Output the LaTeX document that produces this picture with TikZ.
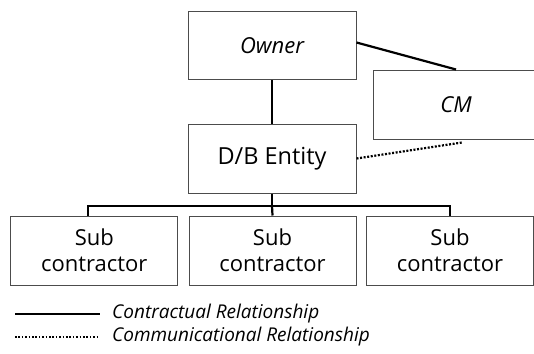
\documentclass[tikz,border=0pt]{standalone}
\usepackage{fontspec}
\setmainfont{Open Sans}
\usetikzlibrary{calc}
\begin{document}
\begin{tikzpicture}[x=1pt,y=-1pt,
  box/.style={draw=black!70,line width=1pt,minimum width=168pt,minimum height=68pt,inner sep=0pt,align=center},
  conn/.style={line width=2.2pt,black},
  comm/.style={line width=2.2pt,black,dash pattern=on 2pt off 1.6pt},
  legtext/.style={anchor=west,inner sep=0pt,font=\fontsize{19}{22}\selectfont\itshape}]
\useasboundingbox (0,0) rectangle (534,353);
\node[box,font=\fontsize{22}{26}\selectfont\itshape] (Owner) at (272,45.5) {Owner};
\node[box,minimum height=69pt,font=\fontsize{23.5}{26}\selectfont] (DB) at (272,158.5) {D/B Entity};
\node[box,minimum width=166pt,minimum height=69pt,font=\fontsize{22}{26}\selectfont\itshape] (CM) at (456,104.5) {CM};
\node[box,minimum width=167pt,minimum height=69pt,font=\fontsize{22}{26}\selectfont] (S1) at (94.3,250.5) {Sub\\contractor};
\node[box,minimum width=167pt,minimum height=69pt,font=\fontsize{22}{26}\selectfont] (S2) at (272.5,250.5) {Sub\\contractor};
\node[box,minimum width=167pt,minimum height=69pt,font=\fontsize{22}{26}\selectfont] (S3) at (450,250.5) {Sub\\contractor};
% connectors
\draw[conn] (Owner) -- (DB);
\draw[conn] ($(Owner.east)+(0,-3)$) -- (CM.north);
\coordinate (cmend) at ($(CM.south)+(6,3)$);
\draw[comm] (DB.east) -- (cmend);
\coordinate (bar) at (272,206);
\coordinate (s1top) at ($(S1.north)+(-6,0)$);
\draw[conn] (DB.south) -- (bar);
\draw[conn] (s1top) |- (bar) -| (S3.north);
\draw[conn] (bar) -- (S2.north);
% legend
\coordinate (l1a) at (15,314);
\coordinate (l1b) at (100,314);
\coordinate (l2a) at (15,337);
\coordinate (l2b) at (99,337);
\draw[conn] (l1a) -- (l1b);
\draw[line width=1.8pt,dash pattern=on 1.6pt off 1.8pt] (l2a) -- (l2b);
\node[legtext] (t1) at (112,314) {Contractual Relationship};
\node[legtext] (t2) at (112,337) {Communicational Relationship};
\end{tikzpicture}
\end{document}
